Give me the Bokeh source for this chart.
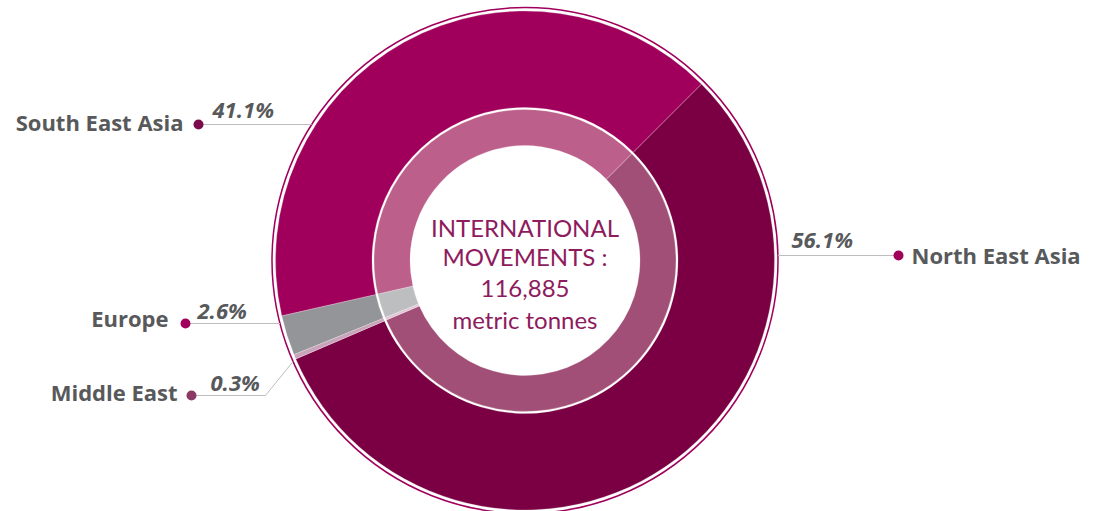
import math
from bokeh.plotting import figure
from bokeh.models import Range1d
from bokeh.core.properties import value
from bokeh.embed import file_html
from bokeh.resources import INLINE

# ---- data ----
regions = ["North East Asia", "Middle East", "Europe", "South East Asia"]
shares = [56.1, 0.3, 2.6, 41.1]
outer_colors = ["#7A0043", "#C9A3B9", "#939598", "#A0005C"]
inner_colors = ["#A14F77", "#E2C6D5", "#BDBEC0", "#BD5F8B"]
dot_colors = ["#A0005C", "#8C3864", "#A0005C", "#7D0A4C"]
center_lines = ["INTERNATIONAL", "MOVEMENTS :", "116,885", "metric tonnes"]

# ---- layout (image pixel coordinates) ----
W, H = 1094, 511
CX, CY = 524.5, 260
R_OUT, R_MID_OUT, R_MID_IN, R_IN = 249.5, 153, 151, 115
R_BORDER = 253
START_DEG = 45
LABEL_FONT = "Open Sans"
LABEL_SIZE = 22
CENTER_SIZE = 24


def X(px):
    return px


def Y(py):
    return H - py


def YT(py, size):
    # baseline correction for rendered text
    return H - (py - 0.4 * size)


p = figure(width=W, height=H, output_backend="svg", toolbar_location=None,
           x_range=Range1d(0, W), y_range=Range1d(0, H),
           min_border=0, outline_line_color=None, background_fill_color="white")
p.axis.visible = False
p.grid.visible = False

total = sum(shares)
starts, ends = [], []
cum = 0.0
for s in shares:
    a0 = START_DEG - cum / total * 360
    a1 = a0 - s / total * 360
    starts.append(a0)
    ends.append(a1)
    cum += s

n = len(shares)
p.annular_wedge(x=[X(CX)] * n, y=[Y(CY)] * n, inner_radius=R_MID_OUT, outer_radius=R_OUT,
                start_angle=starts, end_angle=ends, start_angle_units="deg", end_angle_units="deg",
                direction="clock", fill_color=outer_colors,
                line_color="white", line_alpha=0.3, line_width=0.8)
p.annular_wedge(x=[X(CX)] * n, y=[Y(CY)] * n, inner_radius=R_IN, outer_radius=R_MID_IN,
                start_angle=starts, end_angle=ends, start_angle_units="deg", end_angle_units="deg",
                direction="clock", fill_color=inner_colors,
                line_color="white", line_alpha=0.3, line_width=0.8)
# thin border ring
p.circle(x=[X(CX)], y=[Y(CY)], radius=R_BORDER, fill_color=None,
         line_color="#A0005C", line_width=1.5)

# center text
center_baselines = [237, 266, 298, 329]
p.text(x=[X(CX)] * len(center_lines), y=[YT(b, CENTER_SIZE) for b in center_baselines],
       text=center_lines, text_align="center", text_baseline="alphabetic",
       text_font=value("Lato"), text_font_size=f"{CENTER_SIZE}px", text_color="#8E1B5E")

# labels
label_color = "#58595B"
leader_color = "#BDBDBD"


def border_x(py, side):
    dy = py - CY
    dx = math.sqrt(max(R_BORDER ** 2 - dy ** 2, 0))
    return CX + side * dx


# per-label layout: (dot x, dot y, name anchor x, name baseline, pct x, pct baseline, side)
layout = {
    "South East Asia": (198, 124, 183, 130, 212, 117, -1),
    "North East Asia": (898, 255, 911, 263, 791, 247, 1),
    "Europe": (185, 323, 168, 326, 197, 318, -1),
    "Middle East": (191, 395, 177, 400, 210, 390, -1),
}

for i, name in enumerate(regions):
    dx_, dy_, nx, ny, px_, py_, side = layout[name]
    pct_txt = f"{shares[i]:.1f}%"
    if name == "Middle East":
        knee_x = 265
        tip_y = 361
        xs = [dx_, knee_x, border_x(tip_y, -1)]
        ys = [dy_, dy_, tip_y]
    else:
        xs = [dx_, border_x(dy_, side)]
        ys = [dy_, dy_]
    p.line(x=[X(v) for v in xs], y=[Y(v) for v in ys], line_color=leader_color, line_width=1)
    p.scatter(x=[X(dx_)], y=[Y(dy_)], size=10, marker="circle",
              fill_color=dot_colors[i], line_color=None)
    p.text(x=[X(nx)], y=[YT(ny, LABEL_SIZE)], text=[name],
           text_align="right" if side < 0 else "left", text_baseline="alphabetic",
           text_font=value(LABEL_FONT), text_font_style="bold", text_font_size=f"{LABEL_SIZE}px",
           text_color=label_color)
    p.text(x=[X(px_)], y=[YT(py_, LABEL_SIZE)], text=[pct_txt], text_align="left",
           text_baseline="alphabetic", text_font=value(LABEL_FONT),
           text_font_style="bold italic", text_font_size=f"{LABEL_SIZE}px",
           text_color=label_color)

open("out.html", "w").write(file_html(p, INLINE))
